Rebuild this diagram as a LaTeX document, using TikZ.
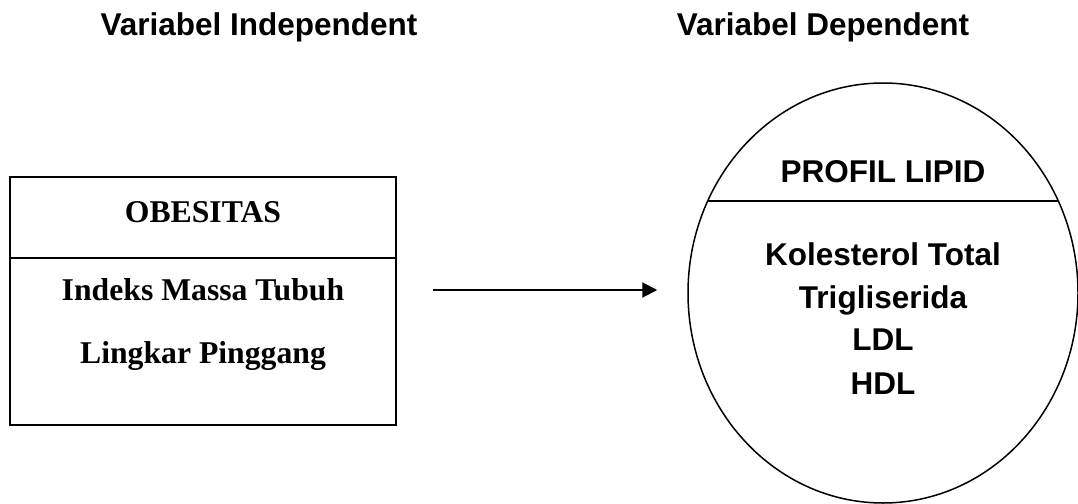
\documentclass[tikz,border=0pt]{standalone}
\usepackage{fontspec}
\setmainfont{Liberation Serif}
\setsansfont{Liberation Sans}
\usetikzlibrary{arrows.meta,positioning,calc,shapes.geometric}

\begin{document}
\begin{tikzpicture}[x=1pt,y=-1pt,
  arial/.style={font=\sffamily\bfseries\fontsize{31.5}{43}\selectfont,inner sep=0pt},
  times/.style={font=\rmfamily\bfseries\fontsize{31.7}{43}\selectfont,inner sep=0pt},
  flow/.style={-{Triangle[length=15pt,width=15pt]},line width=2pt}]
\useasboundingbox (0,0) rectangle (1078,503);
% headings
\node[arial,anchor=base] (hin) at (259,36) {Variabel Independent};
\node[arial,anchor=base] (hdep) at (823,36) {Variabel Dependent};
% independent variable box
\node[draw,line width=2pt,minimum width=386pt,minimum height=248pt,inner sep=0pt] (box) at (203,301) {};
\draw[line width=2pt] ([yshift=43pt]box.west) -- ([yshift=43pt]box.east);
\node[times,anchor=base] (obs) at (203,222) {OBESITAS};
\node[times,anchor=base] (imt) at (203,300) {Indeks Massa Tubuh};
\node[times,anchor=base] (lp) at (203,363) {Lingkar Pinggang};
% dependent variable ellipse
\node[draw,ellipse,line width=1.5pt,minimum width=390pt,minimum height=420pt,inner sep=0pt] (lipid) at (883,293) {};
\draw[line width=1.5pt] ($(lipid.center)+(-175.5,-92)$) -- ($(lipid.center)+(175.5,-92)$);
\node[arial,anchor=base] (pl) at (883,182) {PROFIL LIPID};
\node[arial,anchor=base] (kt) at (883,265) {Kolesterol Total};
\node[arial,anchor=base] (tg) at (883,308) {Trigliserida};
\node[arial,anchor=base] (ldl) at (883,350) {LDL};
\node[arial,anchor=base] (hdl) at (883,394) {HDL};
% arrow
\draw[flow,shorten <=36pt,shorten >=30pt] ([yshift=11pt]box.east) -- ([yshift=11pt]box.east -| lipid.west);
\end{tikzpicture}
\end{document}
